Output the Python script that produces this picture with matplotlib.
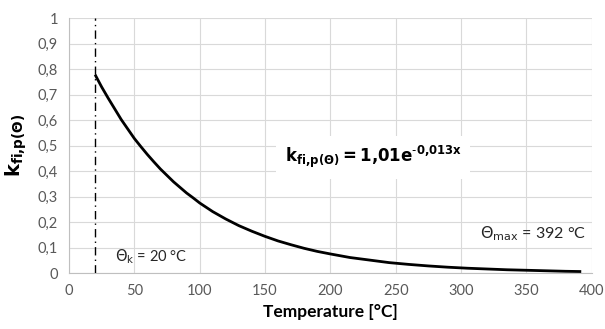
import matplotlib
matplotlib.use("Agg")
import matplotlib.pyplot as plt

# Data
temperature = [20, 25, 30, 35, 40, 45, 50, 55, 60, 65, 70, 75, 80, 85, 90, 95, 100,
               110, 120, 130, 140, 150, 160, 170, 180, 190, 200, 215, 230, 245,
               260, 275, 290, 305, 320, 335, 350, 365, 380, 392]
k_fi = [0.778, 0.730, 0.686, 0.644, 0.602, 0.565, 0.528, 0.496, 0.465, 0.436,
        0.408, 0.383, 0.358, 0.336, 0.314, 0.295, 0.275, 0.241, 0.212, 0.186,
        0.164, 0.144, 0.126, 0.111, 0.097, 0.085, 0.075, 0.061, 0.051, 0.041,
        0.034, 0.028, 0.023, 0.019, 0.016, 0.013, 0.011, 0.009, 0.007, 0.006]
theta_k = 20
theta_max = 392
x_ticks = [0, 50, 100, 150, 200, 250, 300, 350, 400]
y_ticks = [0, 0.1, 0.2, 0.3, 0.4, 0.5, 0.6, 0.7, 0.8, 0.9, 1.0]
y_tick_labels = ["0", "0,1", "0,2", "0,3", "0,4", "0,5", "0,6", "0,7", "0,8", "0,9", "1"]

plt.rcParams['font.family'] = ['Lato', 'DejaVu Sans']
plt.rcParams['mathtext.fontset'] = 'custom'
plt.rcParams['mathtext.rm'] = 'DejaVu Sans'
plt.rcParams['mathtext.bf'] = 'DejaVu Sans:bold'
plt.rcParams['mathtext.it'] = 'DejaVu Sans:italic'

fig = plt.figure(figsize=(6.05, 3.29), dpi=100)
ax = fig.add_axes([0.114, 0.170, 0.864, 0.775])

ax.plot(temperature, k_fi, color='black', lw=2.0, solid_capstyle='butt',
        solid_joinstyle='round', zorder=3)
ax.plot([theta_k, theta_k], [0, 1], color='black', lw=1.0, ls=(0, (6, 3, 1, 3)), zorder=3)

ax.set_xlim(0, 400)
ax.set_ylim(0, 1)
ax.set_xticks(x_ticks)
ax.set_yticks(y_ticks)
ax.set_yticklabels(y_tick_labels)
ax.grid(True, color='#d9d9d9', lw=0.8, zorder=0)
ax.set_axisbelow(True)
for side in ['top', 'right']:
    ax.spines[side].set_visible(False)
for side in ['left', 'bottom']:
    ax.spines[side].set_color('#bfbfbf')
    ax.spines[side].set_linewidth(0.8)
ax.tick_params(length=0, labelsize=10.5, labelcolor='#595959', pad=8)

ax.set_xlabel('Temperature [°C]', fontsize=12.5, fontweight='bold', labelpad=4)
ax.set_ylabel(r'$\mathbf{k}_{\mathbf{fi{,}p(\Theta)}}$', fontsize=14, labelpad=6)

ax.text(165, 0.455, r'$\mathbf{k}_{\mathbf{fi{,}p(\Theta)}}$' + r'$\mathbf{=1{,}01e}^{\mathbf{\text{-}0{,}013x}}$',
        fontsize=12, va='center', ha='left',
        bbox=dict(facecolor='white', edgecolor='none', pad=6), zorder=4)
ax.text(35, 0.065, r'$\Theta_{\mathrm{k}}$ = 20 °C', fontsize=10.5, va='center', ha='left',
        color='#262626')
ax.text(396, 0.155, r'$\Theta_{\mathrm{max}}$ = 392 °C', fontsize=11.5, va='center', ha='right',
        color='#262626')

fig.savefig('out.png', dpi=100)
